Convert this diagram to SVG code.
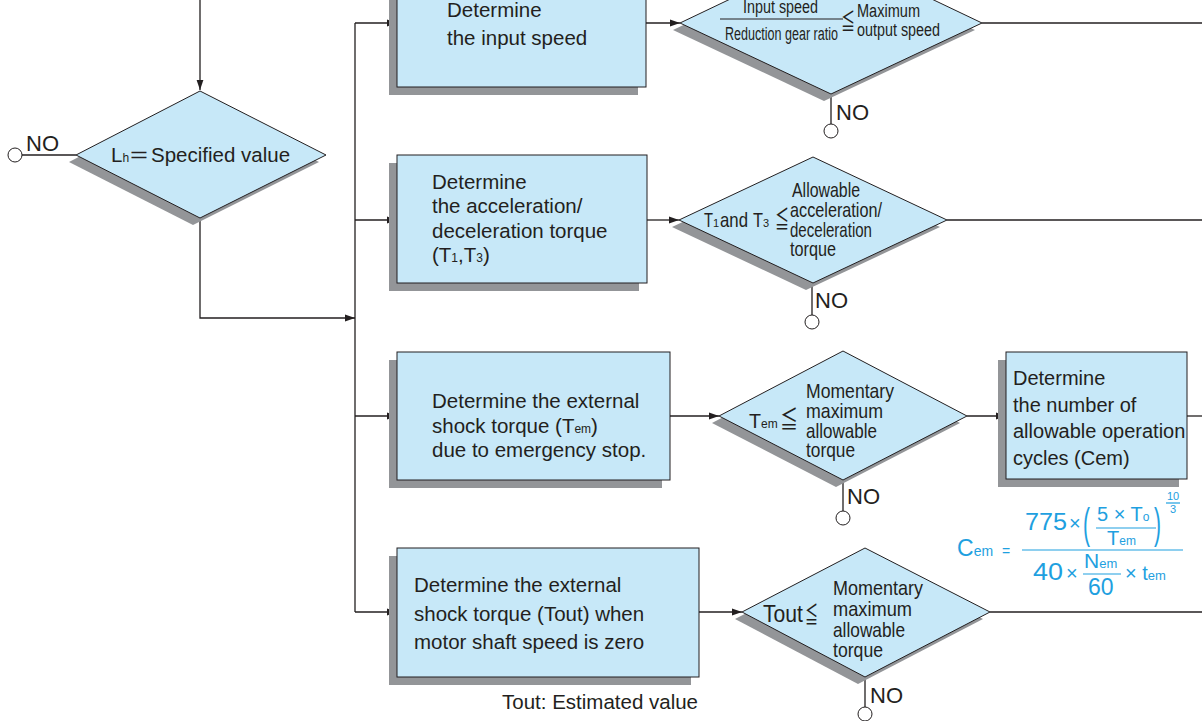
<svg xmlns="http://www.w3.org/2000/svg" width="1202" height="721" viewBox="0 0 1202 721">
<defs>
<marker id="arr" markerWidth="11" markerHeight="8" refX="10" refY="4" orient="auto" markerUnits="userSpaceOnUse">
<path d="M0,0.6 L10,4 L0,7.4 Z" fill="#231f20"/>
</marker>
<style>
.box{fill:#c7e8f8;stroke:#231f20;stroke-width:1}
.sh{fill:#939598}
.t{font-family:"Liberation Sans",Arial,sans-serif;font-size:20.5px;fill:#231f20}
.dt{font-family:"Liberation Sans",Arial,sans-serif;font-size:21px;fill:#231f20}
.le{font-family:"Noto Sans CJK JP","DejaVu Sans",sans-serif;fill:#231f20}
.no{font-family:"Liberation Sans",Arial,sans-serif;font-size:22px;fill:#231f20}
.c{stroke:#231f20;stroke-width:1.3;fill:none}
.ca{stroke:#231f20;stroke-width:1.3;fill:none;marker-end:url(#arr)}
.circ{fill:#ffffff;stroke:#231f20;stroke-width:1}
.f{font-family:"Liberation Sans",Arial,sans-serif;fill:#1ea0e0}
.fl{stroke:#1ea0e0;stroke-width:1.2}
</style>
</defs>
<rect width="1202" height="721" fill="#ffffff"/>

<g id="connectors">
<path class="ca" d="M200,0 V90"/>
<path class="ca" d="M200,218 V318 H355"/>
<path class="c" d="M355,23 V612"/>
<path class="ca" d="M355,23 H397"/>
<path class="ca" d="M355,220 H397"/>
<path class="ca" d="M355,416 H397"/>
<path class="ca" d="M355,612 H397"/>
<path class="ca" d="M646,23 H680"/>
<path class="c" d="M982,23 H1202"/>
<path class="ca" d="M647,220 H679"/>
<path class="c" d="M947,220 H1202"/>
<path class="ca" d="M670,416 H719"/>
<path class="ca" d="M967,416 H1006"/>
<path class="c" d="M1187,416 H1202"/>
<path class="ca" d="M699,612 H742"/>
<path class="c" d="M990,612 H1202"/>
<path class="c" d="M76,155 H22"/>
<path class="c" d="M831,94 V124"/>
<path class="c" d="M812,283 V315"/>
<path class="c" d="M843,480 V511"/>
<path class="c" d="M865,677 V707"/>
</g>

<g id="no-lh">
<circle class="circ" cx="15" cy="155" r="7"/>
<text class="no" x="26" y="151">NO</text>
</g>
<g id="no-d1">
<circle class="circ" cx="831" cy="131" r="7"/>
<text class="no" x="836" y="120">NO</text>
</g>
<g id="no-d2">
<circle class="circ" cx="812" cy="322" r="7"/>
<text class="no" x="815" y="308">NO</text>
</g>
<g id="no-d3">
<circle class="circ" cx="843" cy="518" r="7"/>
<text class="no" x="847" y="504">NO</text>
</g>
<g id="no-d4">
<circle class="circ" cx="865" cy="714" r="7"/>
<text class="no" x="870" y="703">NO</text>
</g>

<g id="lh-decision">
<polygon class="sh" points="69,162 193,98 319,162 193,225"/>
<polygon class="box" points="76,155 200,91 326,155 200,218"/>
<text class="t" x="111" y="162">L<tspan font-size="12">h</tspan></text>
<text class="t" x="130" y="162" textLength="18" lengthAdjust="spacingAndGlyphs">=</text>
<text class="t" x="151" y="162">Specified value</text>
</g>

<g id="box-input-speed">
<rect class="sh" x="389" y="-33" width="249" height="128"/>
<rect class="box" x="397" y="-41" width="249" height="128"/>
<text class="t" x="447" y="17">Determine</text>
<text class="t" x="447" y="45">the input speed</text>
</g>

<g id="d-input-speed">
<polygon class="sh" points="673,30 824,-42 975,30 824,101"/>
<polygon class="box" points="680,23 831,-49 982,23 831,94"/>
<text class="dt" x="743" y="13" style="font-size:18px" textLength="75" lengthAdjust="spacingAndGlyphs">Input speed</text>
<line x1="720" y1="19" x2="843" y2="19" stroke="#231f20" stroke-width="1"/>
<text class="dt" x="725" y="40" style="font-size:18px" textLength="113" lengthAdjust="spacingAndGlyphs">Reduction gear ratio</text>
<text class="le" x="841" y="29" style="font-size:22px" textLength="14" lengthAdjust="spacingAndGlyphs">≦</text>
<text class="dt" x="857" y="17" style="font-size:18px" textLength="63" lengthAdjust="spacingAndGlyphs">Maximum</text>
<text class="dt" x="857" y="36" style="font-size:18px" textLength="83" lengthAdjust="spacingAndGlyphs">output speed</text>
</g>

<g id="box-accel">
<rect class="sh" x="389" y="163" width="250" height="128"/>
<rect class="box" x="397" y="155" width="250" height="128"/>
<text class="t" x="432" y="189">Determine</text>
<text class="t" x="432" y="213">the acceleration/</text>
<text class="t" x="432" y="238">deceleration torque</text>
<text class="t" x="432" y="262">(T<tspan font-size="12">1</tspan>,T<tspan font-size="12">3</tspan>)</text>
</g>

<g id="d-accel">
<polygon class="sh" points="672,227 806,164 940,227 806,290"/>
<polygon class="box" points="679,220 813,157 947,220 813,283"/>
<text class="dt" x="704" y="227" textLength="9" lengthAdjust="spacingAndGlyphs">T</text>
<text class="dt" x="713" y="227" style="font-size:11px">1</text>
<text class="dt" x="720" y="227" textLength="28" lengthAdjust="spacingAndGlyphs">and</text>
<text class="dt" x="753" y="227" textLength="10" lengthAdjust="spacingAndGlyphs">T</text>
<text class="dt" x="763" y="227" style="font-size:11px">3</text>
<text class="le" x="775" y="228" style="font-size:24px" textLength="14" lengthAdjust="spacingAndGlyphs">≦</text>
<text class="dt" x="792" y="197" textLength="68" lengthAdjust="spacingAndGlyphs">Allowable</text>
<text class="dt" x="790" y="217" textLength="92" lengthAdjust="spacingAndGlyphs">acceleration/</text>
<text class="dt" x="790" y="237" textLength="82" lengthAdjust="spacingAndGlyphs">deceleration</text>
<text class="dt" x="790" y="256" textLength="46" lengthAdjust="spacingAndGlyphs">torque</text>
</g>

<g id="box-emergency">
<rect class="sh" x="389" y="360" width="273" height="128"/>
<rect class="box" x="397" y="352" width="273" height="128"/>
<text class="t" x="432" y="408">Determine the external</text>
<text class="t" x="432" y="433">shock torque (T<tspan font-size="12">em</tspan>)</text>
<text class="t" x="432" y="457">due to emergency stop.</text>
</g>

<g id="d-emergency">
<polygon class="sh" points="712,423 836,358 960,423 836,487"/>
<polygon class="box" points="719,416 843,351 967,416 843,480"/>
<text class="dt" x="749" y="428" textLength="12" lengthAdjust="spacingAndGlyphs">T</text>
<text class="dt" x="761" y="428" style="font-size:12px">em</text>
<text class="le" x="780" y="428" style="font-size:24px" textLength="18" lengthAdjust="spacingAndGlyphs">≦</text>
<text class="dt" x="806" y="398" textLength="88" lengthAdjust="spacingAndGlyphs">Momentary</text>
<text class="dt" x="806" y="418" textLength="77" lengthAdjust="spacingAndGlyphs">maximum</text>
<text class="dt" x="806" y="438" textLength="71" lengthAdjust="spacingAndGlyphs">allowable</text>
<text class="dt" x="806" y="457" textLength="49" lengthAdjust="spacingAndGlyphs">torque</text>
</g>

<g id="box-cycles">
<rect class="sh" x="998" y="360" width="181" height="127"/>
<rect class="box" x="1006" y="352" width="181" height="127"/>
<text class="t" x="1013" y="385" style="font-size:20px">Determine</text>
<text class="t" x="1013" y="412" style="font-size:20px">the number of</text>
<text class="t" x="1013" y="438" style="font-size:20px">allowable operation</text>
<text class="t" x="1013" y="465" style="font-size:20px">cycles (Cem)</text>
</g>

<g id="formula">
<text class="f" x="957" y="556" font-size="23">C<tspan font-size="14">em</tspan></text>
<text class="f" x="1002" y="556" font-size="14">=</text>
<line class="fl" x1="1022" y1="550" x2="1183" y2="550"/>
<text class="f" x="1025" y="530" font-size="24" textLength="42" lengthAdjust="spacingAndGlyphs">775</text>
<text class="f" x="1069" y="530" font-size="20">×</text>
<text class="f" font-size="42" transform="translate(1083,538) scale(0.5,1)">(</text>
<text class="f" font-size="42" transform="translate(1154,538) scale(0.5,1)">)</text>
<text class="f" x="1097" y="521" font-size="20">5 × T<tspan font-size="12">o</tspan></text>
<line class="fl" x1="1096" y1="528" x2="1156" y2="528"/>
<text class="f" x="1107" y="545" font-size="20">T<tspan font-size="12">em</tspan></text>
<text class="f" x="1167" y="500" font-size="11">10</text>
<line class="fl" x1="1166" y1="503" x2="1180" y2="503" stroke-width="0.8"/>
<text class="f" x="1170" y="513" font-size="11">3</text>
<text class="f" x="1033" y="580" font-size="24" textLength="30" lengthAdjust="spacingAndGlyphs">40</text>
<text class="f" x="1066" y="580" font-size="20">×</text>
<text class="f" x="1084" y="568" font-size="21">N<tspan font-size="13">em</tspan></text>
<line class="fl" x1="1083" y1="574" x2="1121" y2="574"/>
<text class="f" x="1088" y="595" font-size="23">60</text>
<text class="f" x="1125" y="580" font-size="20">× t<tspan font-size="13">em</tspan></text>
</g>

<g id="box-tout">
<rect class="sh" x="389" y="556" width="302" height="129"/>
<rect class="box" x="397" y="548" width="302" height="129"/>
<text class="t" x="414" y="592">Determine the external</text>
<text class="t" x="414" y="621">shock torque (Tout) when</text>
<text class="t" x="414" y="649">motor shaft speed is zero</text>
</g>
<g id="note-tout">
<text class="t" x="502" y="709">Tout: Estimated value</text>
</g>

<g id="d-tout">
<polygon class="sh" points="735,619 858,555 983,619 858,684"/>
<polygon class="box" points="742,612 865,548 990,612 865,677"/>
<text class="dt" x="763" y="622" style="font-size:23px" textLength="40" lengthAdjust="spacingAndGlyphs">Tout</text>
<text class="le" x="805" y="623" style="font-size:23px" textLength="13" lengthAdjust="spacingAndGlyphs">≦</text>
<text class="dt" x="833" y="595" textLength="90" lengthAdjust="spacingAndGlyphs">Momentary</text>
<text class="dt" x="833" y="616" textLength="79" lengthAdjust="spacingAndGlyphs">maximum</text>
<text class="dt" x="833" y="637" textLength="72" lengthAdjust="spacingAndGlyphs">allowable</text>
<text class="dt" x="833" y="657" textLength="50" lengthAdjust="spacingAndGlyphs">torque</text>
</g>
</svg>
